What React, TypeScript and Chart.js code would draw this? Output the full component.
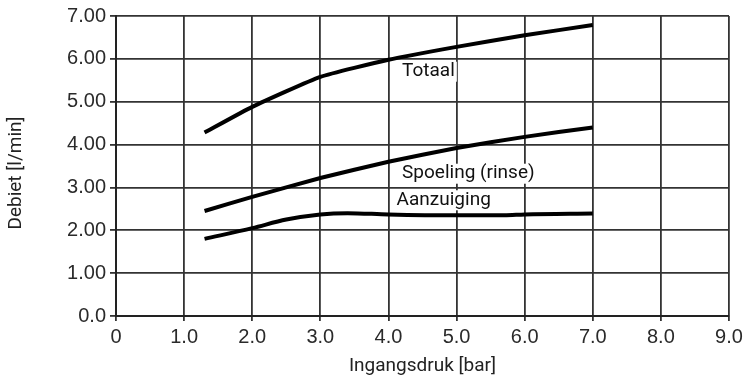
import React, { useEffect, useRef } from "react";
import { Chart, registerables } from "chart.js";

Chart.register(...registerables);

const totaalX = [1.3, 2.0, 3.0, 4.0, 5.0, 6.0, 7.0];
const totaalY = [4.28, 4.88, 5.58, 5.98, 6.28, 6.55, 6.79];
const spoelingX = [1.3, 2.0, 3.0, 4.0, 5.0, 6.0, 7.0];
const spoelingY = [2.45, 2.78, 3.22, 3.6, 3.92, 4.18, 4.4];
const aanzuigingX = [1.3, 2.0, 2.5, 3.0, 3.4, 4.0, 5.0, 5.7, 6.0, 7.0];
const aanzuigingY = [1.8, 2.05, 2.25, 2.37, 2.4, 2.37, 2.35, 2.35, 2.37, 2.39];

const xTickLabels = ["0", "1.0", "2.0", "3.0", "4.0", "5.0", "6.0", "7.0", "8.0", "9.0"];
const yTickLabels = ["0.0", "1.00", "2.00", "3.00", "4.00", "5.00", "6.00", "7.00"];

const seriesLabels = ["Totaal", "Spoeling (rinse)", "Aanzuiging"];
// anchor (x value, y value) for each annotation text
const labelAnchorX = [4.2, 4.2, 4.12];
const labelAnchorY = [5.7, 3.32, 2.7];

const xTitle = "Ingangsdruk [bar]";
const yTitle = "Debiet [l/min]";

const textFont = "19px Roboto";

const toPoints = (xs: number[], ys: number[]) => xs.map((x, i) => ({ x, y: ys[i] }));

const annotationPlugin = {
  id: "annotations",
  afterDatasetsDraw(chart: any) {
    const ctx = chart.ctx;
    const xs = chart.scales.x;
    const ys = chart.scales.y;
    ctx.save();
    ctx.font = textFont;
    ctx.textBaseline = "middle";
    ctx.textAlign = "left";
    seriesLabels.forEach((t, i) => {
      const px = xs.getPixelForValue(labelAnchorX[i]);
      const py = ys.getPixelForValue(labelAnchorY[i]);
      const w = ctx.measureText(t).width;
      ctx.fillStyle = "#ffffff";
      ctx.fillRect(px - 2, py - 10, w + 4, 20);
      ctx.fillStyle = "#111111";
      ctx.fillText(t, px, py);
    });
    // axis titles
    const area = chart.chartArea;
    ctx.fillStyle = "#222222";
    ctx.textAlign = "center";
    ctx.fillText(xTitle, (area.left + area.right) / 2, 366);
    ctx.save();
    ctx.translate(16, 173);
    ctx.rotate(-Math.PI / 2);
    ctx.fillText(yTitle, 0, 0);
    ctx.restore();
    ctx.restore();
  },
};

export default function App() {
  const ref = useRef<HTMLCanvasElement>(null);
  useEffect(() => {
    if (!ref.current) return;
    const lineStyle = {
      borderColor: "#000000",
      borderWidth: 4,
      pointRadius: 0,
      fill: false,
    };
    const chart = new Chart(ref.current, {
      type: "line",
      data: {
        datasets: [
          { ...lineStyle, label: seriesLabels[0], data: toPoints(totaalX, totaalY), tension: 0.15 },
          { ...lineStyle, label: seriesLabels[1], data: toPoints(spoelingX, spoelingY), tension: 0.15 },
          {
            ...lineStyle,
            label: seriesLabels[2],
            data: toPoints(aanzuigingX, aanzuigingY),
            cubicInterpolationMode: "monotone",
          },
        ],
      },
      options: {
        responsive: false,
        animation: false,
        layout: { padding: { top: 16, right: 19, left: 0, bottom: 0 } },
        plugins: {
          legend: { display: false },
          tooltip: { enabled: false },
        },
        scales: {
          x: {
            type: "linear",
            min: 0,
            max: 9,
            afterFit: (s: any) => {
              s.height = 63;
            },
            afterBuildTicks: (s: any) => {
              s.ticks = xTickLabels.map((_, i) => ({ value: i }));
            },
            ticks: {
              color: "#2a2a2a",
              font: { family: "Liberation Sans", size: 20 },
              padding: 4,
              maxRotation: 0,
              callback: (_v: any, i: number) => xTickLabels[i],
            },
            grid: { color: "#333333", lineWidth: 1.8, tickLength: 5 },
            border: { color: "#222222", width: 2 },
          },
          y: {
            type: "linear",
            min: 0,
            max: 7,
            afterFit: (s: any) => {
              s.width = 116;
            },
            afterBuildTicks: (s: any) => {
              s.ticks = yTickLabels.map((_, i) => ({ value: i }));
            },
            ticks: {
              color: "#2a2a2a",
              font: { family: "Liberation Sans", size: 20 },
              padding: 4,
              callback: (_v: any, i: number) => yTickLabels[i],
            },
            grid: { color: "#333333", lineWidth: 1.8, tickLength: 6 },
            border: { color: "#222222", width: 2 },
          },
        },
      },
      plugins: [annotationPlugin],
    } as any);
    return () => chart.destroy();
  }, []);
  return (
    <div style={{ position: "fixed", left: 0, top: 0, width: 748, height: 379, background: "#fff" }}>
      <canvas ref={ref} width={748} height={379} />
    </div>
  );
}
